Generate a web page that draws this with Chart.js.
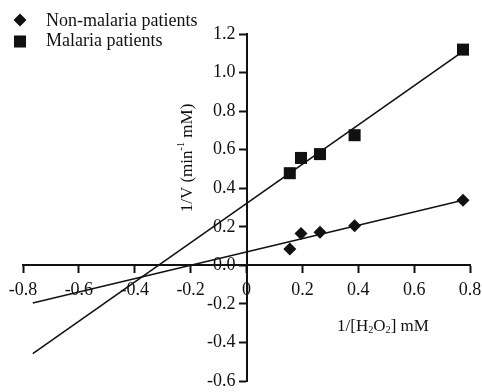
<!DOCTYPE html>
<html>
<head>
<meta charset="utf-8">
<script src="https://cdn.jsdelivr.net/npm/chart.js@4"></script>
<style>
  html, body { margin: 0; padding: 0; background: #fff; }
  #wrap { width: 482px; height: 392px; }
</style>
</head>
<body>
<div id="wrap"><canvas id="chart-lb"></canvas></div>
<script>
// data (1/[H2O2] vs 1/V)
const seriesNames = ['Non-malaria patients', 'Malaria patients'];
const invS = [0.155, 0.195, 0.263, 0.387, 0.775];
const nonMalariaInvV = [0.085, 0.165, 0.172, 0.205, 0.338];
const malariaInvV = [0.478, 0.557, 0.577, 0.675, 1.119];

// regression lines, end points
const fitX = [-0.765, 0.775];
const nonMalariaFit = [-0.195, 0.338];
const malariaFit = [-0.458, 1.11];

const xTicks = [-0.8, -0.6, -0.4, -0.2, 0, 0.2, 0.4, 0.6, 0.8];
const yTicks = [-0.6, -0.4, -0.2, 0, 0.2, 0.4, 0.6, 0.8, 1.0, 1.2];

const FONT = '"Liberation Serif", "Times New Roman", serif';
const INK = '#111';

function pts(xs, ys) {
  return xs.map((x, i) => ({ x: x, y: ys[i] }));
}

// draws a string made of normal / sub / sup pieces
function richText(ctx, parts, size) {
  let w = 0;
  for (const p of parts) {
    ctx.font = (p.sub || p.sup ? size * 0.6 : size) + 'px ' + FONT;
    w += ctx.measureText(p.t).width;
  }
  let x = -w / 2;
  for (const p of parts) {
    const s = p.sub || p.sup ? size * 0.6 : size;
    ctx.font = s + 'px ' + FONT;
    let dy = 0;
    if (p.sub) dy = size * 0.22;
    if (p.sup) dy = -size * 0.38;
    ctx.fillText(p.t, x, dy);
    x += ctx.measureText(p.t).width;
  }
}

const extras = {
  id: 'extras',
  afterDraw(chart) {
    const ctx = chart.ctx;
    ctx.save();
    ctx.fillStyle = INK;
    ctx.textBaseline = 'middle';
    ctx.textAlign = 'left';

    // legend
    Chart.helpers.drawPoint(ctx, { pointStyle: 'rectRot', radius: 6.5, rotation: 0, borderWidth: 0 }, 20, 20);
    Chart.helpers.drawPoint(ctx, { pointStyle: 'rect', radius: 8.5, rotation: 0, borderWidth: 0 }, 20, 41.5);
    ctx.font = '18px ' + FONT;
    ctx.fillText(seriesNames[0], 46, 21);
    ctx.fillText(seriesNames[1], 46, 41);

    // x title
    ctx.save();
    ctx.translate(383, 327);
    richText(ctx, [{ t: '1/[H' }, { t: '2', sub: true }, { t: 'O' }, { t: '2', sub: true }, { t: '] mM' }], 17);
    ctx.restore();

    // y title
    ctx.save();
    ctx.translate(188, 158);
    ctx.rotate(-Math.PI / 2);
    richText(ctx, [{ t: '1/V (min' }, { t: '-1', sup: true }, { t: ' mM)' }], 17);
    ctx.restore();

    ctx.restore();
  }
};

const ctxLB = document.getElementById('chart-lb');

new Chart(ctxLB, {
  type: 'scatter',
  data: {
    datasets: [{
      label: seriesNames[0],
      data: pts(invS, nonMalariaInvV),
      pointStyle: 'rectRot',
      pointRadius: 6.5,
      backgroundColor: INK,
      borderWidth: 0
    }, {
      label: seriesNames[1],
      data: pts(invS, malariaInvV),
      pointStyle: 'rect',
      pointRadius: 8.5,
      backgroundColor: INK,
      borderWidth: 0
    }, {
      type: 'line',
      data: pts(fitX, nonMalariaFit),
      borderColor: INK,
      borderWidth: 1.6,
      pointRadius: 0
    }, {
      type: 'line',
      data: pts(fitX, malariaFit),
      borderColor: INK,
      borderWidth: 1.6,
      pointRadius: 0
    }]
  },
  options: {
    responsive: true,
    maintainAspectRatio: false,
    animation: false,
    layout: { padding: { left: 23, right: 12, top: 34, bottom: 11 } },
    plugins: { legend: { display: false }, tooltip: { enabled: false } },
    scales: {
      x: {
        type: 'linear',
        position: { y: 0 },
        min: -0.8,
        max: 0.8,
        afterBuildTicks: (s) => { s.ticks = xTicks.map(v => ({ value: v })); },
        afterFit: (s) => { s.paddingLeft = 0; s.paddingRight = 0; },
        ticks: {
          color: INK,
          font: { family: FONT, size: 18 },
          padding: 7,
          maxRotation: 0,
          callback: (v) => v === 0 ? '0' : v.toFixed(1)
        },
        grid: { drawOnChartArea: false, drawTicks: true, tickLength: 7, tickWidth: 2, tickColor: INK },
        border: { display: true, color: INK, width: 2 }
      },
      y: {
        type: 'linear',
        position: 'center',
        min: -0.6,
        max: 1.2,
        afterBuildTicks: (s) => { s.ticks = yTicks.map(v => ({ value: v })); },
        afterFit: (s) => { s.paddingTop = 0; s.paddingBottom = 0; },
        ticks: {
          color: INK,
          font: { family: FONT, size: 18 },
          padding: 4,
          callback: (v) => v.toFixed(1)
        },
        grid: { drawOnChartArea: false, drawTicks: true, tickLength: 7, tickWidth: 2, tickColor: INK },
        border: { display: true, color: INK, width: 2 }
      }
    }
  },
  plugins: [extras]
});
</script>
</body>
</html>
